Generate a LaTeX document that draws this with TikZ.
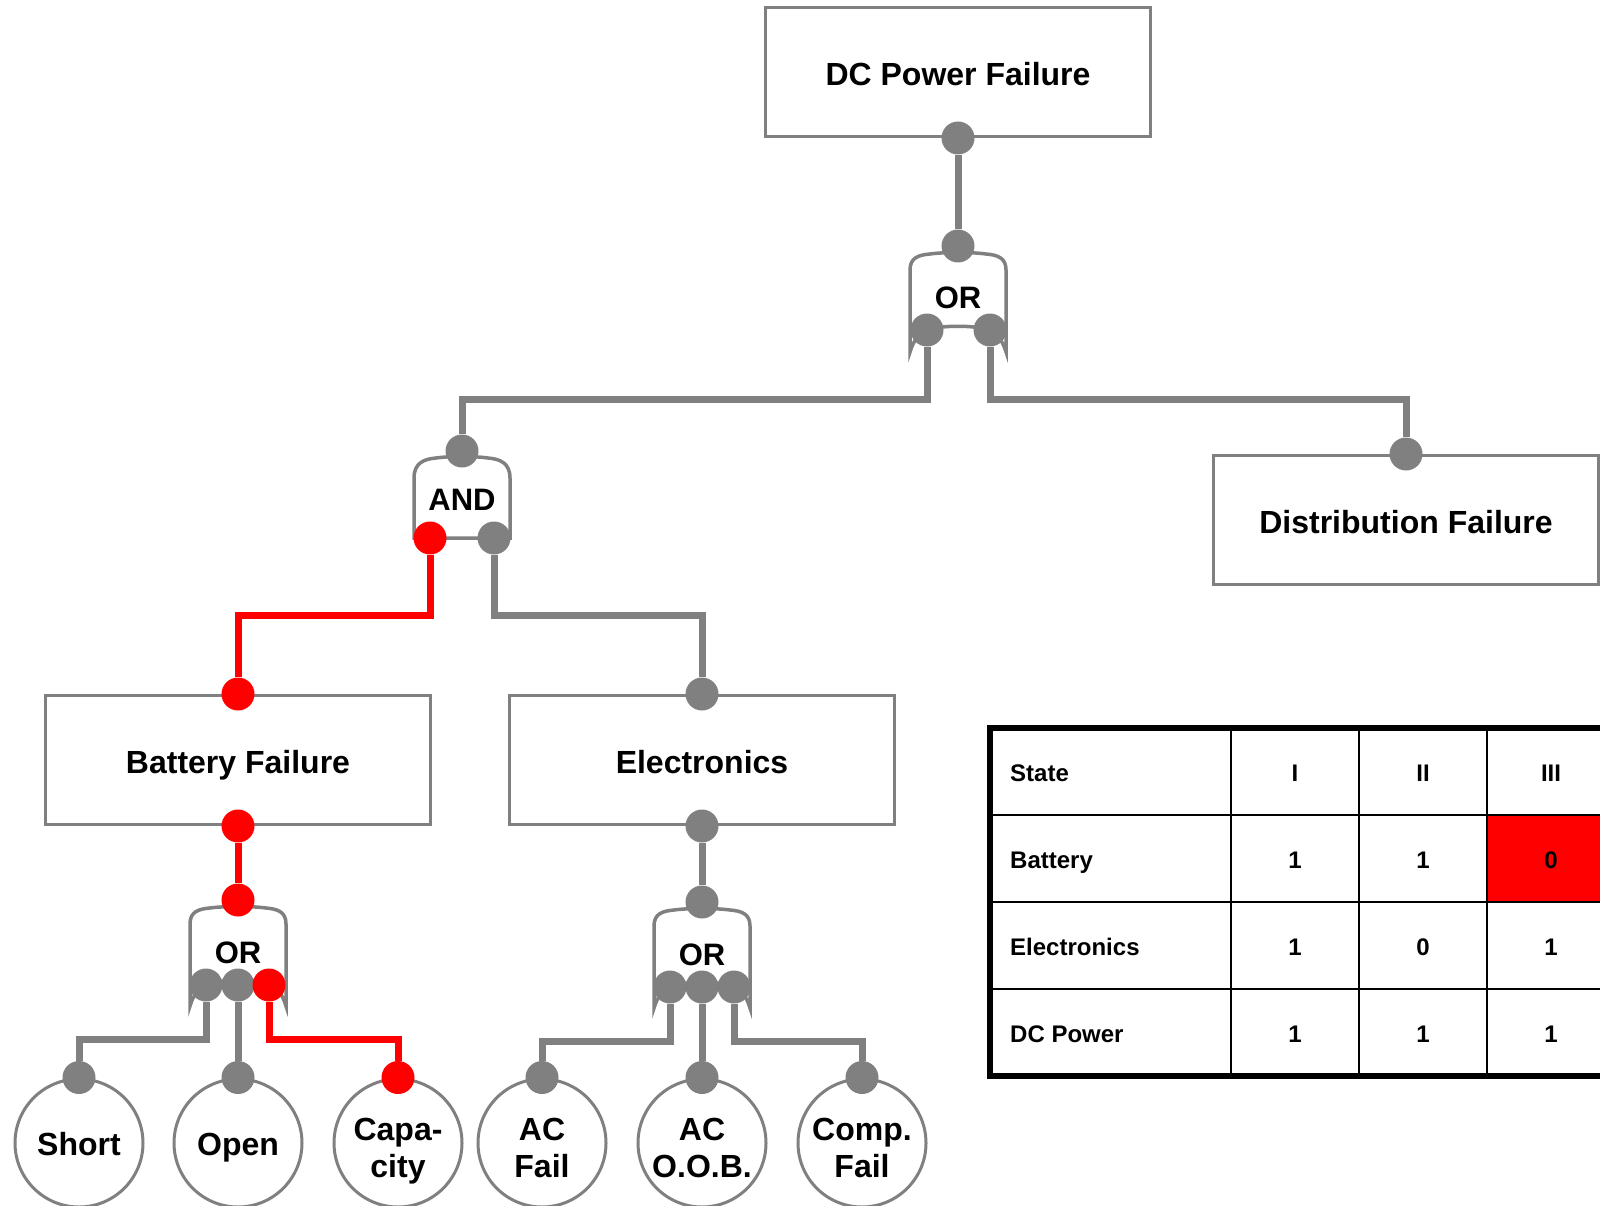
\documentclass[tikz,border=0pt]{standalone}
\usepackage{fontspec}
\setmainfont{Liberation Sans}
\usetikzlibrary{positioning,calc}
\definecolor{frameline}{HTML}{808080}
\definecolor{alarm}{HTML}{FF0000}

\begin{document}
\begin{tikzpicture}[x=1pt,y=-1pt,
  box/.style={draw=frameline,line width=3pt,fill=white,minimum width=385pt,
              minimum height=129pt,inner sep=0pt,text height=27pt,text depth=0pt,
              font=\fontsize{32}{37}\selectfont\bfseries},
  event/.style={circle,draw=frameline,line width=3pt,fill=white,minimum size=128pt,
                inner sep=0pt,align=center,text height=25pt,text depth=0pt,
                font=\fontsize{32}{37}\selectfont\bfseries},
  twoline/.style={text height=68pt,text depth=0pt},
  gatelabel/.style={inner sep=0pt,font=\fontsize{31}{36}\selectfont\bfseries},
  portdot/.style={circle,fill=frameline,minimum size=33pt,inner sep=0pt},
  hotdot/.style={portdot,fill=alarm},
  link/.style={draw=frameline,line width=7pt},
  hotlink/.style={link,draw=alarm},
  gate/.style={draw=frameline,line width=3.5pt,fill=white},
  cell/.style={inner sep=0pt,text height=21pt,text depth=0pt,
               font=\fontsize{24}{28}\selectfont\bfseries},
  orgate/.pic={
    \path[gate] (-48,106) -- (-48,24) .. controls (-48,12) and (-40,9) .. (-28,8)
      .. controls (-14,6) and (14,6) .. (28,8) .. controls (40,9) and (48,12) .. (48,24)
      -- (48,106) .. controls (45,96) and (40,88) .. (31,84)
      .. controls (16,79) and (-16,79) .. (-31,84) .. controls (-40,88) and (-45,96) .. (-48,106)
      -- cycle;},
  andgate/.pic={
    \path[gate] (-48,88) -- (-48,28) .. controls (-48,13) and (-38,9) .. (-26,8)
      .. controls (-12,6) and (12,6) .. (26,8) .. controls (38,9) and (48,13) .. (48,28)
      -- (48,88) -- cycle;}
]
\useasboundingbox (0,0) rectangle (1600,1206);
\clip (0,0) rectangle (1600,1206);

% events
\node[box] (dcpower) at (958,72) {DC Power Failure};
\node[box] (distrib) at (1406,520) {Distribution Failure};
\node[box] (battery) at (238,760) {Battery Failure};
\node[box] (electronics) at (702,760) {Electronics};
\node[event] (short) at (79,1143) {Short};
\node[event] (open) at (238,1143) {Open};
\node[event,twoline] (capacity) at (398,1143) {Capa-\\city};
\node[event,twoline] (acfail) at (542,1143) {AC\\Fail};
\node[event,twoline] (acoob) at (702,1143) {AC\\O.O.B.};
\node[event,twoline] (compfail) at (862,1143) {Comp.\\Fail};

% gates
\pic at (958,246) {orgate};
\node[gatelabel] (orTop) at (958,298) {OR};
\pic at (462,450) {andgate};
\node[gatelabel] (andMid) at (462,500) {AND};
\pic at (238,900) {orgate};
\node[gatelabel] (orBatt) at (238,953) {OR};
\pic at (702,902) {orgate};
\node[gatelabel] (orElec) at (702,955) {OR};

% ports
\node[portdot] (dcBot) at (dcpower.south) {};
\node[portdot] (orTopIn) at (958,246) {};
\node[portdot] (orTopL) at (927,330) {};
\node[portdot] (orTopR) at (990,330) {};
\node[portdot] (distTop) at (distrib.north) {};
\node[portdot] (andIn) at (462,451) {};
\node[hotdot] (andL) at (430,538) {};
\node[portdot] (andR) at (494,538) {};
\node[hotdot] (battTop) at (battery.north) {};
\node[hotdot] (battBot) at (battery.south) {};
\node[portdot] (elecTop) at (electronics.north) {};
\node[portdot] (elecBot) at (electronics.south) {};
\node[hotdot] (orBattIn) at (238,900) {};
\node[portdot] (orBattL) at (206,985) {};
\node[portdot] (orBattM) at (238,985) {};
\node[hotdot] (orBattR) at (269,985) {};
\node[portdot] (orElecIn) at (702,902) {};
\node[portdot] (orElecL) at (670,987) {};
\node[portdot] (orElecM) at (702,987) {};
\node[portdot] (orElecR) at (734,987) {};
\node[portdot] (shortTop) at (short.north) {};
\node[portdot] (openTop) at (open.north) {};
\node[hotdot] (capTop) at (capacity.north) {};
\node[portdot] (acfailTop) at (acfail.north) {};
\node[portdot] (acoobTop) at (acoob.north) {};
\node[portdot] (compTop) at (compfail.north) {};

% connectors
\draw[link] (dcBot) -- (orTopIn);
\draw[link] (orTopL) -- ++(0,69) -| (andIn);
\draw[link] (orTopR) -- ++(0,69) -| (distTop);
\draw[hotlink] (andL) -- ++(0,77) -| (battTop);
\draw[link] (andR) -- ++(0,77) -| (elecTop);
\draw[hotlink] (battBot) -- (orBattIn);
\draw[link] (elecBot) -- (orElecIn);
\draw[link] (orBattL) -- ++(0,54) -| (shortTop);
\draw[link] (orBattM) -- (openTop);
\draw[hotlink] (orBattR) -- ++(0,54) -| (capTop);
\draw[link] (orElecL) -- ++(0,54) -| (acfailTop);
\draw[link] (orElecM) -- (acoobTop);
\draw[link] (orElecR) -- ++(0,54) -| (compTop);

% state table
\fill[alarm] (1487,815) rectangle (1640,902);
\draw[line width=2.5pt] (990,815) -- (1640,815) (990,902) -- (1640,902) (990,989) -- (1640,989);
\draw[line width=2.5pt] (1231,728) -- (1231,1076) (1359,728) -- (1359,1076) (1487,728) -- (1487,1076);
\draw[line width=6pt] (990,728) rectangle (1640,1076);
\node[cell,anchor=west] (stateHead) at (1010,771) {State};
\node[cell] (colI) at (1295,771) {I};
\node[cell] (colII) at (1423,771) {II};
\node[cell] (colIII) at (1551,771) {III};
\node[cell,anchor=west] (rowBatt) at (1010,858) {Battery};
\node[cell] (battI) at (1295,858) {1};
\node[cell] (battII) at (1423,858) {1};
\node[cell] (battIII) at (1551,858) {0};
\node[cell,anchor=west] (rowElec) at (1010,945) {Electronics};
\node[cell] (elecI) at (1295,945) {1};
\node[cell] (elecII) at (1423,945) {0};
\node[cell] (elecIII) at (1551,945) {1};
\node[cell,anchor=west] (rowPower) at (1010,1032) {DC Power};
\node[cell] (powerI) at (1295,1032) {1};
\node[cell] (powerII) at (1423,1032) {1};
\node[cell] (powerIII) at (1551,1032) {1};
\end{tikzpicture}
\end{document}
